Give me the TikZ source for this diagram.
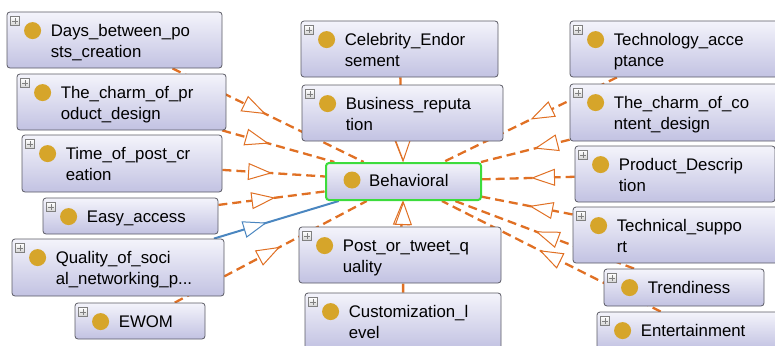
\documentclass[tikz,border=0pt]{standalone}
\usepackage{fontspec}
\setmainfont{Liberation Sans}
\usetikzlibrary{arrows.meta,calc,decorations.markings}
\pgfdeclarelayer{background}
\pgfsetlayers{background,main}

\definecolor{edgeorange}{RGB}{224,112,36}
\definecolor{edgeblue}{RGB}{74,134,192}
\definecolor{dotgold}{RGB}{214,165,42}
\definecolor{behgreen}{RGB}{60,220,60}
\definecolor{boxborder}{RGB}{90,90,100}
\definecolor{boxtop}{RGB}{244,244,251}
\definecolor{boxbottom}{RGB}{194,194,226}

\newcommand{\classfont}{\fontsize{16.8}{21}\selectfont}

\tikzset{
  classbox/.style={draw=boxborder, line width=0.8, rounded corners=3,
    top color=boxtop, bottom color=boxbottom, inner sep=0},
  classtext/.style={anchor=base west, inner sep=0, font=\classfont},
  plusbox/.style={draw=gray, top color=white, bottom color=gray!35,
    minimum size=9, inner sep=0,
    path picture={
      \draw[line width=0.9pt] ([xshift=-3pt]path picture bounding box.center) -- ([xshift=3pt]path picture bounding box.center);
      \draw[line width=0.9pt] ([yshift=-3pt]path picture bounding box.center) -- ([yshift=3pt]path picture bounding box.center);
    }},
  isatip/.tip={Triangle[length=24pt, width=17pt, line width=1pt, fill=white]},
  subclass/.style={draw=edgeorange, line width=2.3, dash pattern=on 9pt off 5pt,
    postaction={decorate},
    decoration={markings, mark=at position -#1pt with {\arrow{isatip[color=edgeorange]}}}},
  subclass end/.style={draw=edgeorange, line width=2.3, dash pattern=on 9pt off 5pt,
    -{isatip[color=edgeorange]}},
  subclass blue/.style={draw=edgeblue, line width=2,
    postaction={decorate},
    decoration={markings, mark=at position -#1pt with {\arrow{isatip[color=edgeblue]}}}}
}

% one class box: name, centre, width, height, text
\newcommand{\classnode}[5]{
  \node[classbox, minimum width=#3, minimum height=#4] (#1) at #2 {};
  \node[plusbox] at ($(#1.north west)+(8.5,9.5)$) {};
  \fill[dotgold] ($(#1.north west)+(26,19)$) circle (8.5);
  \node[classtext] at ($(#1.north west)+(44,24.5)$) {\begin{tabular}[t]{@{}l@{}}#5\end{tabular}};
}

\begin{document}
\begin{tikzpicture}[x=1pt, y=-1pt]
  \useasboundingbox (0,0) rectangle (775,345);
  \clip (0,0) rectangle (775,345);

  % left column
  \classnode{days}{(114.5,40)}{215}{56}{Days\_between\_po\\sts\_creation}
  \classnode{charmprod}{(121.5,102)}{209}{56}{The\_charm\_of\_pr\\oduct\_design}
  \classnode{timepost}{(122,163.5)}{200}{57}{Time\_of\_post\_cr\\eation}
  \classnode{easy}{(130.5,216)}{175}{36}{Easy\_access}
  \classnode{quality}{(118,267.5)}{212}{57}{Quality\_of\_soci\\al\_networking\_p...}
  \classnode{ewom}{(140,321)}{130}{36}{EWOM}

  % middle column
  \classnode{celeb}{(399.5,49)}{197}{56}{Celebrity\_Endor\\sement}
  \classnode{business}{(402.5,113)}{201}{56}{Business\_reputa\\tion}
  \classnode{post}{(400,255)}{202}{56}{Post\_or\_tweet\_q\\uality}
  \classnode{custom}{(403,321)}{196}{56}{Customization\_l\\evel}

  % right column
  \classnode{techacc}{(675,49)}{210}{56}{Technology\_acce\\ptance}
  \classnode{charmcont}{(678,112.5)}{216}{57}{The\_charm\_of\_co\\ntent\_design}
  \classnode{proddesc}{(675,174)}{200}{56}{Product\_Descrip\\tion}
  \classnode{techsup}{(678,235)}{210}{56}{Technical\_suppo\\rt}
  \classnode{trend}{(684,287.5)}{160}{37}{Trendiness}
  \classnode{entertain}{(698,330.5)}{202}{37}{Entertainment}

  % centre class
  \node[classbox, draw=behgreen, line width=2, minimum width=155, minimum height=37] (beh) at (403.5,181.5) {};
  \fill[dotgold] ($(beh.north west)+(27,18)$) circle (8.5);
  \node[classtext] at ($(beh.north west)+(44,24)$) {Behavioral};

  \begin{pgfonlayer}{background}
    \draw[subclass=109] (days) -- (beh);
    \draw[subclass=68] (charmprod) -- (beh);
    \draw[subclass=53] (timepost) -- (beh);
    \draw[subclass=50] (easy) -- (beh);
    \draw[subclass blue=75] (quality) -- (beh);
    \draw[subclass=98] (ewom) -- (beh);
    \draw[subclass end] (celeb) -- (beh);
    \draw[subclass end] (business) -- (beh);
    \draw[subclass end] (post) -- (beh);
    \draw[subclass end] (custom) -- (beh);
    \draw[subclass=97] (techacc) -- (beh);
    \draw[subclass=55] (charmcont) -- (beh);
    \draw[subclass=49] (proddesc) -- (beh);
    \draw[subclass=48] (techsup) -- (beh);
    \draw[subclass=86] (trend) -- (beh);
    \draw[subclass=109] (entertain) -- (beh);
  \end{pgfonlayer}
\end{tikzpicture}
\end{document}
